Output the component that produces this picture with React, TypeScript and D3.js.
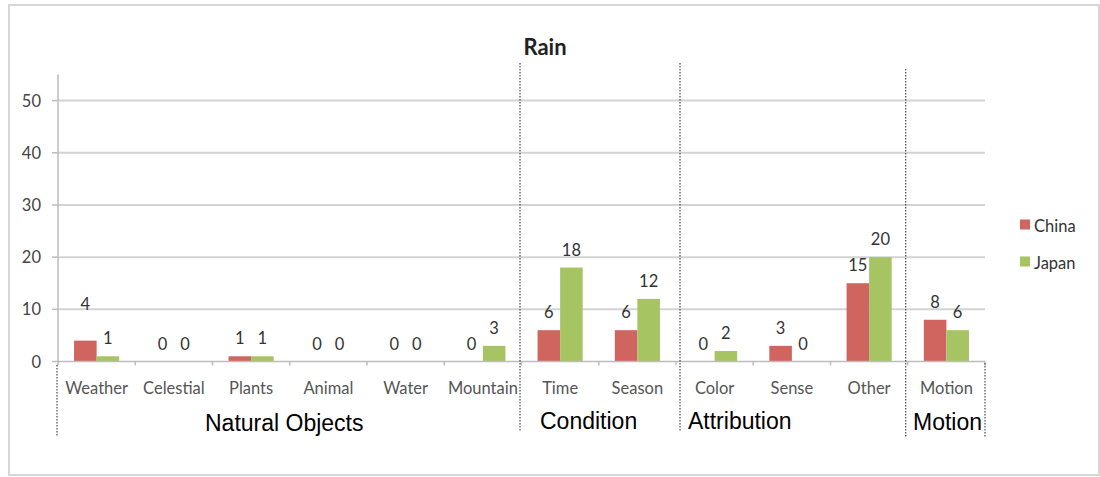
import React from "react";
import * as d3 from "d3";

// Counts of rain-related expressions by category
const categories = ["Weather", "Celestial", "Plants", "Animal", "Water", "Mountain", "Time", "Season", "Color", "Sense", "Other", "Motion"];
const china = [4, 0, 1, 0, 0, 0, 6, 6, 0, 3, 15, 8];
const japan = [1, 0, 1, 0, 0, 3, 18, 12, 2, 0, 20, 6];
const seriesNames = ["China", "Japan"];
const yTicks = [0, 10, 20, 30, 40, 50];

// Category groups and the index of the first category in each group
const groupNames = ["Natural Objects", "Condition", "Attribution", "Motion"];
const groupStarts = [0, 6, 8, 11];

const W = 1100;
const H = 477;
const COLORS = ["#d0645e", "#a6c462"];
const FONT = "Lato, 'Open Sans', sans-serif";

export default function App() {
  const x = d3.scaleBand<string>().domain(categories).range([58, 985]).paddingInner(0).paddingOuter(0);
  const y = d3.scaleLinear().domain([0, 55]).range([361.5, 74.5]);
  const bw = x.bandwidth();
  const group = bw * 0.584;
  const inner = d3.scaleBand<string>().domain(seriesNames).range([0, group]);
  const series = [china, japan];

  // Label nudges (px, upward) for labels lifted off their bars
  const labelLift: Record<string, number> = { "China-Weather": 19 };

  // Separator lines at the start of each group plus one closing the last group;
  // hand-drawn dividers, so each carries a small offset and its own extent
  const sepNudge = [-1, -1.5, 4, -2, 0];
  const sepExtent = [
    [365, 437],
    [63, 432],
    [63, 432],
    [69, 437],
    [363, 437],
  ];
  const sepX = [...groupStarts.map((i) => x(categories[i])!), x(categories[categories.length - 1])! + bw];
  const groupLabelX = [205, 540, 688, 913];
  const groupLabelY = [431, 429, 429, 430];

  return (
    <svg width={W} height={H} style={{ display: "block", position: "absolute", left: 0, top: 0 }}>
      <rect x={0} y={0} width={W} height={H} fill="#ffffff" />
      <rect x={9} y={5} width={1090} height={470} fill="#ffffff" stroke="#d6d6d6" strokeWidth={2} />

      {/* title */}
      <text x={545} y={55} textAnchor="middle" fontFamily={FONT} fontWeight="bold" fontSize={22} fill="#222">
        Rain
      </text>

      {/* gridlines */}
      {yTicks.filter((t) => t > 0).map((t) => (
        <line key={"g" + t} x1={58} x2={985} y1={y(t)} y2={y(t)} stroke="#d3d3d3" strokeWidth={2} />
      ))}

      {/* y axis */}
      <line x1={58} x2={58} y1={y(55)} y2={y(0)} stroke="#bdbdbd" strokeWidth={1.5} />
      {yTicks.map((t) => (
        <g key={"t" + t}>
          <line x1={52} x2={58} y1={y(t)} y2={y(t)} stroke="#bdbdbd" strokeWidth={1.5} />
          <text x={41} y={y(t) + 6} textAnchor="end" fontFamily={FONT} fontSize={16.5} fill="#444">
            {t}
          </text>
        </g>
      ))}

      {/* bars */}
      {categories.map((c, i) => {
        const gx = x(c)! + (bw - group) / 2;
        return seriesNames.map((s, k) => {
          const v = series[k][i];
          const bx = gx + inner(s)!;
          return (
            <rect key={c + s} x={bx} y={y(v)} width={inner.bandwidth()} height={y(0) - y(v)} fill={COLORS[k]} />
          );
        });
      })}

      {/* x axis */}
      <line x1={58} x2={985} y1={y(0)} y2={y(0)} stroke="#bdbdbd" strokeWidth={1.5} />
      {categories.map((c) => (
        <line key={"xt" + c} x1={x(c)! + bw} x2={x(c)! + bw} y1={y(0)} y2={y(0) + 4} stroke="#bdbdbd" strokeWidth={1.5} />
      ))}
      <line x1={58} x2={58} y1={y(0)} y2={y(0) + 4} stroke="#bdbdbd" strokeWidth={1.5} />

      {/* value labels */}
      {categories.map((c, i) => {
        const gx = x(c)! + (bw - group) / 2;
        return seriesNames.map((s, k) => {
          const v = series[k][i];
          const cx = gx + inner(s)! + inner.bandwidth() / 2;
          const lift = labelLift[s + "-" + c] || 0;
          return (
            <text key={"l" + c + s} x={cx} y={y(v) - 12 - lift} textAnchor="middle" fontFamily={FONT} fontSize={16.5} fill="#333">
              {v}
            </text>
          );
        });
      })}

      {/* category labels */}
      {categories.map((c) => (
        <text key={"c" + c} x={x(c)! + bw / 2} y={394} textAnchor="middle" fontFamily={FONT} fontSize={16.5} fill="#555">
          {c}
        </text>
      ))}

      {/* group separators */}
      {sepX.map((sx, i) => (
        <line
          key={"s" + i}
          x1={sx + sepNudge[i]}
          x2={sx + sepNudge[i]}
          y1={sepExtent[i][0]}
          y2={sepExtent[i][1]}
          stroke="#222"
          strokeWidth={1}
          strokeDasharray="1.5,1.5"
        />
      ))}

      {/* group labels */}
      {groupNames.map((g, i) => (
        <text key={"gn" + g} x={groupLabelX[i]} y={groupLabelY[i]} fontFamily="'Liberation Sans', Arial, sans-serif" fontSize={23} fill="#000">
          {g}
        </text>
      ))}

      {/* legend */}
      {seriesNames.map((s, k) => (
        <g key={"lg" + s} transform={`translate(1020, ${219.5 + k * 37})`}>
          <rect x={0} y={0} width={10} height={10} fill={COLORS[k]} />
          <text x={14} y={12} fontFamily={FONT} fontSize={16.5} fill="#333">
            {s}
          </text>
        </g>
      ))}
    </svg>
  );
}
